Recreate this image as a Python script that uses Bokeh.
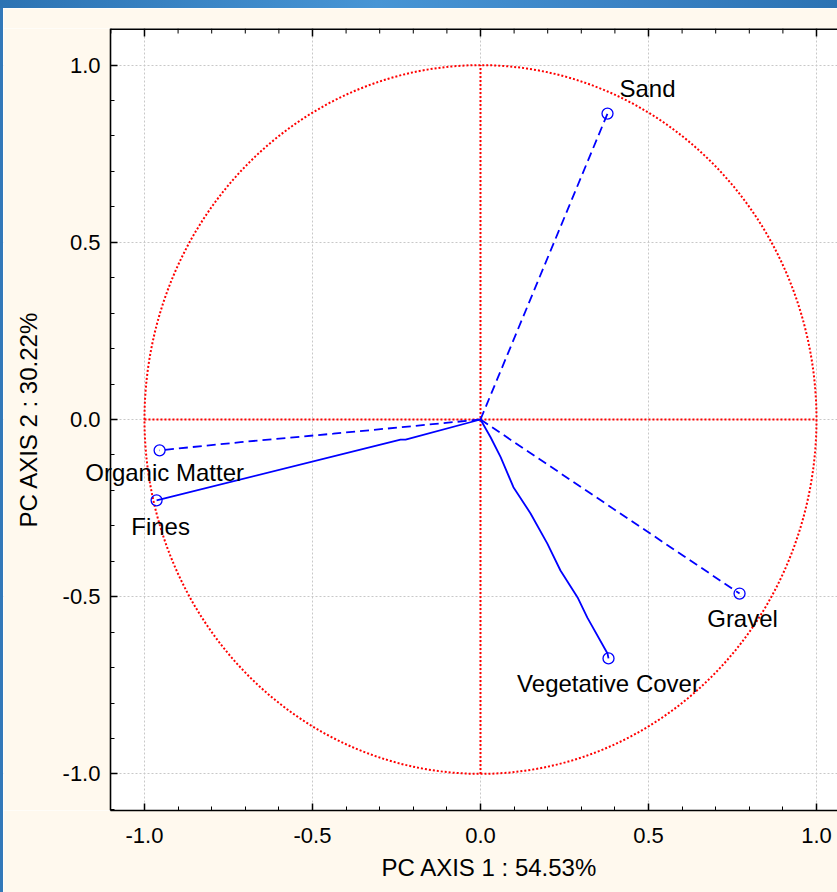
import numpy as np
from bokeh.plotting import figure
from bokeh.models import (Range1d, LinearAxis, SingleIntervalTicker, Div, Label, Title,
                          NumeralTickFormatter, BoxAnnotation)
from bokeh.layouts import column, row
from bokeh.embed import file_html
from bokeh.resources import INLINE

# ---------------- data ----------------
VARIABLES = ["Sand", "Organic Matter", "Fines", "Gravel", "Vegetative Cover"]
PC1 = [0.378, -0.955, -0.964, 0.771, 0.381]
PC2 = [0.863, -0.087, -0.228, -0.491, -0.674]
DASHED = [True, True, False, True, False]

# traced vector paths, origin -> loading
SAND_X = [0.0, 0.378]
SAND_Y = [0.0, 0.863]
ORGANIC_X = [0.0, -0.238, -0.438, -0.714, -0.955]
ORGANIC_Y = [0.0, -0.022, -0.040, -0.064, -0.087]
FINES_X = [0.0, -0.223, -0.238, -0.964]
FINES_Y = [0.0, -0.057, -0.057, -0.228]
GRAVEL_X = [0.0, 0.771]
GRAVEL_Y = [0.0, -0.491]
VEG_X = [0.0, 0.030, 0.060, 0.098, 0.149, 0.199, 0.238, 0.289, 0.318, 0.378, 0.381]
VEG_Y = [0.0, -0.050, -0.106, -0.191, -0.265, -0.350, -0.426, -0.502, -0.559, -0.660, -0.674]

X_TITLE = "PC AXIS 1 : 54.53%"
Y_TITLE = "PC AXIS 2 : 30.22%"
TICK_INTERVAL = 0.5
MINOR_PER_MAJOR = 5
UNIT_CIRCLE_DIAMETER = 2.0
REF_LINE = [-1.0, 1.0]
X_AXIS_POS = -1.1012          # where the plot box starts on the left
X_START, X_END = -1.4196, 1.0625
Y_START, Y_END = -1.103, 1.103

# ---------------- styling ----------------
FONT = "Liberation Sans"
BLUE = "#0000ff"
RED = "#ff0000"
CREAM = "#fff9ee"
FRAME_BLUE = "#3379b9"

# label offsets (pixels, right / down) relative to each loading point
LABEL_DX = [40, 5, 4, 3, 0]
LABEL_DY = [-25, 22, 26, 25, 25]

p = figure(width=834, height=884, output_backend="svg", toolbar_location=None,
           x_range=Range1d(X_START, X_END), y_range=Range1d(Y_START, Y_END),
           min_border_left=0, min_border_right=0, min_border_top=20,
           min_border_bottom=82, x_axis_location=None, y_axis_location=None)
p.background_fill_color = "white"
p.border_fill_color = CREAM
p.outline_line_color = None

ticker_x = SingleIntervalTicker(interval=TICK_INTERVAL, num_minor_ticks=MINOR_PER_MAJOR)
ticker_y = SingleIntervalTicker(interval=TICK_INTERVAL, num_minor_ticks=MINOR_PER_MAJOR)
fmt = NumeralTickFormatter(format="0.0")

p.xgrid.ticker = ticker_x
p.ygrid.ticker = ticker_y
for g in (p.xgrid, p.ygrid):
    g.grid_line_color = "#c8c8c8"
    g.grid_line_dash = "2 2"
    g.grid_line_width = 1

# area left of the plot box looks like the page (drawn over the grid)
p.add_layout(BoxAnnotation(right=X_AXIS_POS, fill_color=CREAM, fill_alpha=1,
                           line_color=None, level="underlay"))


def style_axis(ax):
    ax.axis_line_color = "black"
    ax.axis_line_width = 1.6
    ax.major_tick_line_color = "black"
    ax.minor_tick_line_color = "black"
    ax.major_tick_line_width = 1.5
    ax.minor_tick_line_width = 1
    ax.major_tick_in = 7
    ax.major_tick_out = 0
    ax.minor_tick_in = 4
    ax.minor_tick_out = 0
    ax.major_label_text_font = FONT
    ax.major_label_text_color = "black"
    ax.axis_label_text_font = FONT
    ax.axis_label_text_font_style = "normal"
    ax.axis_label_text_color = "black"


xb = LinearAxis(ticker=ticker_x, formatter=fmt, bounds=(X_AXIS_POS, X_END))
style_axis(xb)
xb.major_label_text_font_size = "22px"
xb.major_label_standoff = 17
p.add_layout(xb, "below")
p.add_layout(Title(text=X_TITLE, align="left", offset=378, standoff=12,
                   text_font=FONT, text_font_size="24px", text_font_style="normal",
                   text_color="black"), "below")

yl = LinearAxis(ticker=ticker_y, formatter=fmt, axis_label=Y_TITLE,
                fixed_location=X_AXIS_POS)
style_axis(yl)
yl.major_label_text_font_size = "22px"
yl.major_label_standoff = 10
yl.axis_label_text_font_size = "24px"
yl.axis_label_standoff = 18
p.add_layout(yl, "left")

# top frame line with inward ticks
p.line(x=[X_AXIS_POS, X_END], y=[Y_END, Y_END], line_color="black", line_width=3.2)
step = TICK_INTERVAL / MINOR_PER_MAJOR
all_ticks = np.round(np.arange(np.ceil(X_AXIS_POS / step) * step, X_END + 1e-9, step), 6)
major_top = [t for t in all_ticks if abs(t / TICK_INTERVAL - round(t / TICK_INTERVAL)) < 1e-6]
minor_top = [t for t in all_ticks if t not in major_top]
p.ray(x=major_top, y=Y_END, length=8, length_units="screen", angle=-np.pi / 2,
      line_color="black", line_width=1.5)
p.ray(x=minor_top, y=Y_END, length=5, length_units="screen", angle=-np.pi / 2,
      line_color="black", line_width=1)

# unit circle and reference axes
p.ellipse(x=0, y=0, width=UNIT_CIRCLE_DIAMETER, height=UNIT_CIRCLE_DIAMETER,
          fill_color=None, line_color=RED, line_width=2, line_dash="2 2")
p.line(x=REF_LINE, y=[0, 0], line_color=RED, line_width=2, line_dash="2 2")
p.line(x=[0, 0], y=REF_LINE, line_color=RED, line_width=2, line_dash="2 2")

# loading vectors
paths = [(SAND_X, SAND_Y), (ORGANIC_X, ORGANIC_Y), (FINES_X, FINES_Y),
         (GRAVEL_X, GRAVEL_Y), (VEG_X, VEG_Y)]
for (px, py), dashed in zip(paths, DASHED):
    p.line(x=px, y=py, line_color=BLUE, line_width=1.8,
           line_dash="9 5" if dashed else "solid")

p.scatter(x=PC1, y=PC2, marker="circle", size=11, fill_color=None,
          line_color=BLUE, line_width=1.3)

for name, x, y, dx, dy in zip(VARIABLES, PC1, PC2, LABEL_DX, LABEL_DY):
    p.add_layout(Label(x=x, y=y, text=name, x_offset=dx, y_offset=-dy,
                       text_align="center", text_baseline="middle", level="overlay",
                       text_font=FONT, text_font_size="24px", text_color="black"))

top_band = Div(text="", width=837, height=8, margin=0,
               styles={"background": "linear-gradient(90deg, #2c73b3 0%, #4795d5 45%, #3a82c4 75%, #2c73b3 100%)"})
left_band = Div(text="", width=3, height=884, margin=0,
                styles={"background": FRAME_BLUE})
layout = column(top_band, row(left_band, p, spacing=0), spacing=0)

open("out.html", "w").write(file_html(layout, INLINE))
